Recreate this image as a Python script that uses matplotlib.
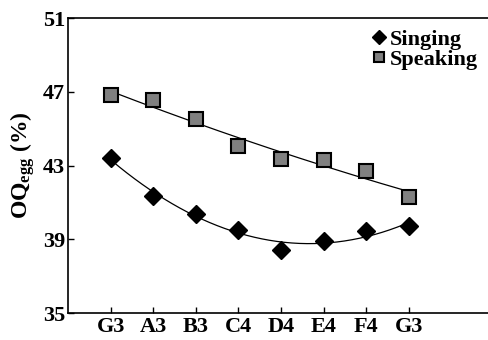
import numpy as np
import matplotlib
matplotlib.use("Agg")
import matplotlib.pyplot as plt

plt.rcParams['font.family'] = ['Liberation Serif', 'DejaVu Serif']
plt.rcParams['font.weight'] = 'bold'
plt.rcParams['mathtext.fontset'] = 'custom'
plt.rcParams['mathtext.rm'] = 'Liberation Serif:bold'
plt.rcParams['mathtext.it'] = 'Liberation Serif:bold'
plt.rcParams['mathtext.bf'] = 'Liberation Serif:bold'

# Data
notes = ['G3', 'A3', 'B3', 'C4', 'D4', 'E4', 'F4', 'G3']
singing = [43.42, 41.33, 40.39, 39.52, 38.43, 38.90, 39.44, 39.73]
speaking = [46.83, 46.55, 45.50, 44.07, 43.34, 43.29, 42.71, 41.29]

x = np.arange(1, len(notes) + 1)

fig = plt.figure(figsize=(4.89, 3.40), dpi=100)
ax = fig.add_axes([0.139, 0.0794, 0.861, 0.8676])

# trend lines (polynomial fits)
xf = np.linspace(1, len(notes), 200)
ax.plot(xf, np.polyval(np.polyfit(x, singing, 2), xf), color='black', lw=0.9)
ax.plot(xf, np.polyval(np.polyfit(x, speaking, 2), xf), color='black', lw=0.9)

ax.plot(x, singing, 'D', color='black', ms=9, label='Singing', linestyle='none')
ax.plot(x, speaking, 's', color='#808080', mec='black', mew=1.5, ms=9.5,
        label='Speaking', linestyle='none')

ax.set_xlim(0, 9.88)
ax.set_ylim(35, 51)
ax.set_yticks([35, 39, 43, 47, 51])
ax.set_xticks(x)
ax.set_xticklabels(notes)
ax.tick_params(direction='in', length=4, width=1, labelsize=16)
ax.tick_params(axis='x', pad=3)
ax.tick_params(axis='y', pad=2)
ax.spines['right'].set_visible(False)
for s in ['left', 'top', 'bottom']:
    ax.spines[s].set_linewidth(1.2)

ax.set_ylabel(r'OQ$_{\mathrm{egg}}$ (%)', fontsize=17, fontweight='bold', labelpad=4)

leg = ax.legend(loc='upper right', frameon=False, fontsize=16, handlelength=0.6,
                handletextpad=0.2, borderaxespad=0.1, labelspacing=0.0,
                bbox_to_anchor=(1.0, 1.0))
for h in leg.legend_handles:
    h.set_markersize(7)

fig.savefig('out.png', dpi=100)
